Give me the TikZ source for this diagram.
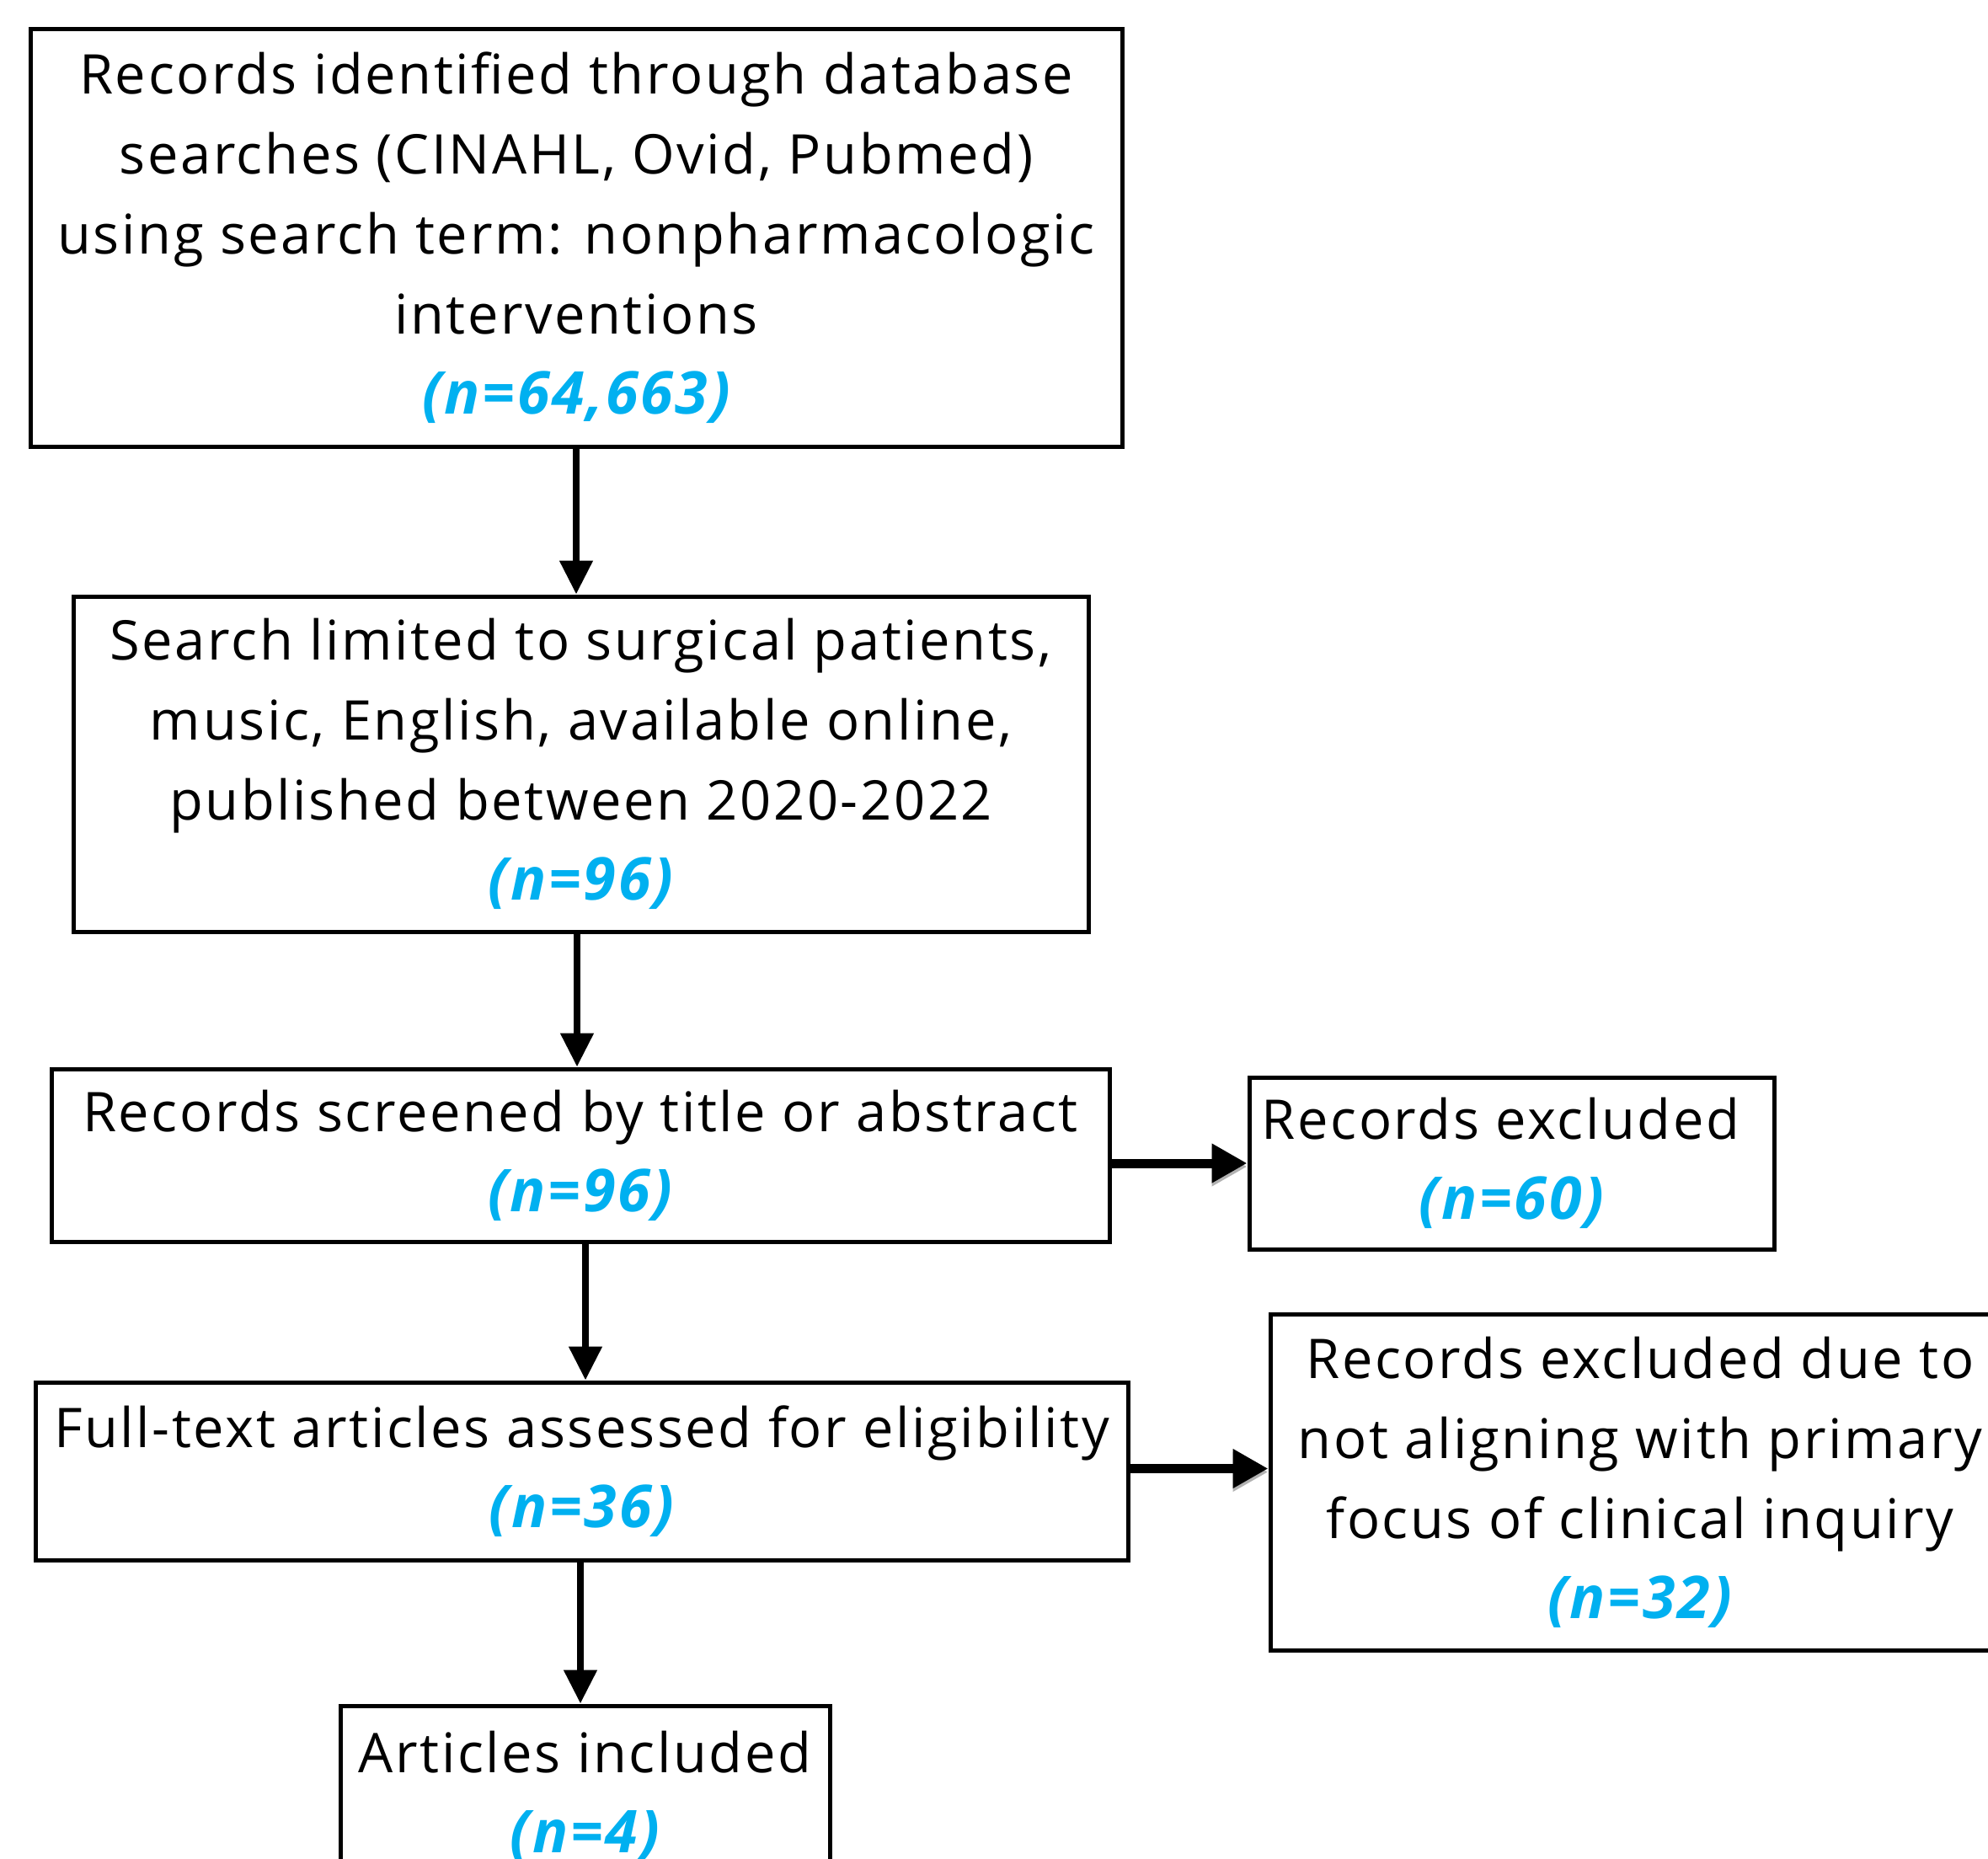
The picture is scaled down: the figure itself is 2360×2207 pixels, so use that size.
\documentclass[tikz,border=0pt]{standalone}
\usepackage{fontspec}
\setmainfont{Open Sans}[LetterSpace=4.0]
\usetikzlibrary{arrows.meta}
\definecolor{nblue}{HTML}{00B0F0}
\newcommand\nval[1]{{\fontsize{70}{95}\selectfont\color{nblue}\bfseries\itshape #1}}
\tikzset{
  box/.style={draw=black, line width=5pt, rectangle, align=center, inner sep=0pt,
    font=\fontsize{65}{95}\selectfont},
  varr/.style={line width=8pt, -{Triangle[length=40pt,width=38pt]}},
  harr/.style={line width=11pt, -{Triangle[length=42pt,width=44pt]},
    preaction={draw=black!30, transform canvas={yshift=-4pt}}}
}
\begin{document}
\begin{tikzpicture}[x=1pt,y=-1pt]
\fill[white] (0,0) rectangle (2360,2207);
\useasboundingbox (0,0) rectangle (2360,2207);

\node[box, minimum width=1296pt, minimum height=495pt] (b1) at (684,282.5)
  {Records identified through database\\searches (CINAHL, Ovid, Pubmed)\\using search term: nonpharmacologic\\interventions\\\nval{(n=64,663)}};
\node[box, minimum width=1205pt, minimum height=398pt] (b2) at (689.5,907)
  {Search limited to surgical patients,\\music, English, available online,\\published between 2020-2022\\\nval{(n=96)}};
\node[box, minimum width=1256pt, minimum height=205pt] (b3) at (689,1371.5)
  {Records screened by title or abstract\\\nval{(n=96)}};
\node[box, minimum width=623pt, minimum height=204pt] (b4) at (1794.5,1381)
  {Records excluded\hspace*{26pt}\\\nval{(n=60)}};
\node[box, minimum width=1297pt, minimum height=211pt] (b5) at (690.5,1746.5)
  {Full-text articles assessed for eligibility\\\nval{(n=36)}};
\node[box, minimum width=878pt, minimum height=399pt] (b6) at (1947,1759.5)
  {Records excluded due to\\not aligning with primary\\focus of clinical inquiry\\\nval{(n=32)}};
\node[box, minimum width=581pt, minimum height=215pt] (b7) at (694.5,2132.5)
  {Articles included\\\nval{(n=4)}};

\draw[varr] (b1.south) -- (b1.south |- b2.north);
\draw[varr] ([xshift=-4.5pt]b2.south) -- ([xshift=-4.5pt]b2.south |- b3.north);
\draw[varr] ([xshift=6pt]b3.south) -- ([xshift=6pt]b3.south |- b5.north);
\draw[varr] ([xshift=-1.5pt]b5.south) -- ([xshift=-1.5pt]b5.south |- b7.north);
\draw[harr] (b4.west -| b3.east) -- (b4.west);
\draw[harr] ([yshift=3pt]b5.east) -- ([yshift=3pt]b5.east -| b6.west);
\end{tikzpicture}
\end{document}
